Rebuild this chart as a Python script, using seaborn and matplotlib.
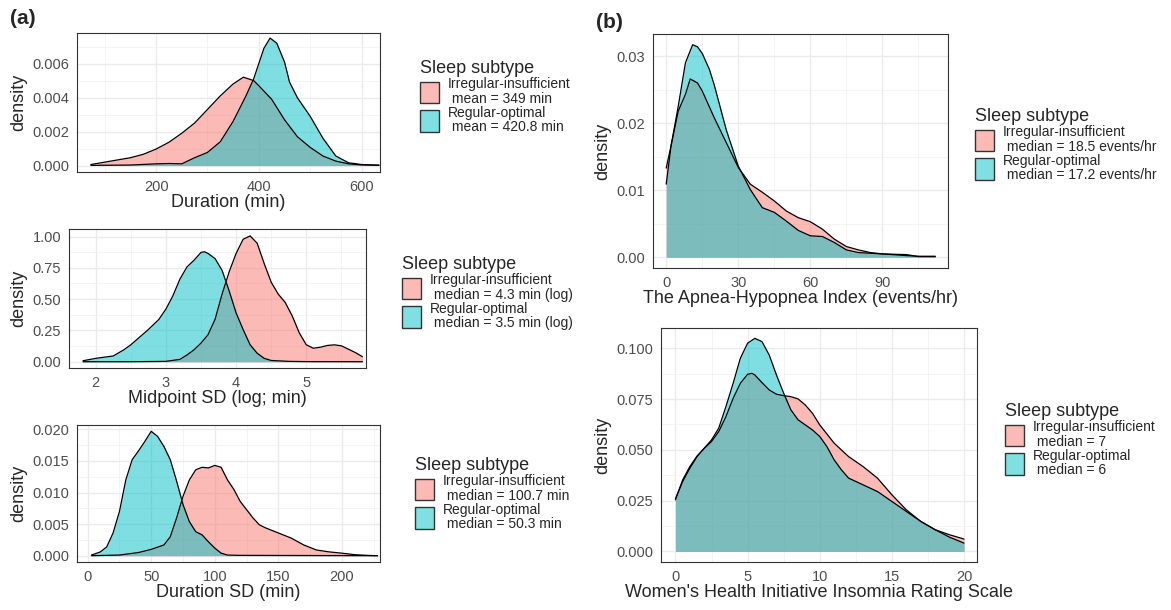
import numpy as np
import pandas as pd
import matplotlib
matplotlib.use('Agg')
import matplotlib.pyplot as plt
from matplotlib.patches import Patch
from matplotlib.ticker import MultipleLocator
import seaborn as sns

# densidades (grade x, valores y) para cada subtipo de sono

# (a) Duração
dur_x_irr = [73, 100, 150, 175, 200, 225, 250, 275, 300, 325, 350, 370, 390, 400,
             425, 450, 475, 500, 525, 550, 575, 600, 634]
dur_y_irr = [0.00006, 0.0002, 0.00046, 0.00066, 0.00097, 0.00137, 0.0019, 0.0025, 0.0033,
             0.0041, 0.0048, 0.0052, 0.0050, 0.0047, 0.0039, 0.0027, 0.0017, 0.00107,
             0.00056, 0.00026, 0.0001, 0.00004, 0.00002]
dur_x_reg = [73, 150, 200, 225, 250, 275, 300, 325, 350, 375, 390, 400, 410, 422, 435,
             450, 460, 475, 500, 525, 550, 575, 600, 634]
dur_y_reg = [0.00001, 0.00003, 0.0001, 0.00012, 0.0001, 0.00046, 0.00077, 0.0014, 0.0026,
             0.0041, 0.0051, 0.0060, 0.0069, 0.0075, 0.0072, 0.0061, 0.0049, 0.0040,
             0.0029, 0.0016, 0.00056, 0.00016, 0.00006, 0.00002]

# (a) Midpoint SD (log)
mid_x_irr = [1.82, 2.5, 3.0, 3.2, 3.3, 3.4, 3.5, 3.6, 3.7, 3.8, 3.9, 4.0, 4.1, 4.2, 4.3,
             4.4, 4.5, 4.6, 4.7, 4.8, 4.9, 5.0, 5.1, 5.2, 5.3, 5.4, 5.5, 5.6, 5.7, 5.8]
mid_y_irr = [0.0, 0.0, 0.003, 0.019, 0.054, 0.095, 0.149, 0.216, 0.338, 0.54, 0.716, 0.865,
             0.978, 1.005, 0.946, 0.784, 0.635, 0.54, 0.473, 0.365, 0.23, 0.135, 0.108,
             0.116, 0.13, 0.135, 0.127, 0.10, 0.073, 0.04]
mid_x_reg = [1.82, 2.0, 2.25, 2.4, 2.5, 2.75, 2.9, 3.0, 3.1, 3.2, 3.3, 3.4, 3.5, 3.55, 3.6,
             3.7, 3.8, 3.9, 4.0, 4.1, 4.2, 4.3, 4.4, 4.5, 4.75, 5.0, 5.8]
mid_y_reg = [0.008, 0.027, 0.046, 0.095, 0.135, 0.257, 0.338, 0.42, 0.527, 0.66, 0.757,
             0.81, 0.873, 0.878, 0.865, 0.824, 0.73, 0.567, 0.39, 0.257, 0.135, 0.068,
             0.027, 0.01, 0.003, 0.001, 0.0]

# (a) Duration SD
dsd_x_irr = [3, 25, 40, 50, 60, 65, 70, 75, 80, 85, 90, 95, 100, 105, 110, 115, 120, 125,
             130, 135, 140, 150, 160, 170, 180, 190, 200, 210, 220, 228]
dsd_y_irr = [0.0, 0.0001, 0.0005, 0.001, 0.0017, 0.003, 0.006, 0.0094, 0.012, 0.0136,
             0.014, 0.0139, 0.0143, 0.014, 0.012, 0.0105, 0.0086, 0.0073, 0.006, 0.0049,
             0.0044, 0.0036, 0.0028, 0.0017, 0.0009, 0.0006, 0.0004, 0.00016, 0.00005, 0.0]
dsd_x_reg = [3, 10, 15, 20, 25, 30, 35, 40, 45, 50, 55, 60, 65, 70, 75, 80, 85, 90, 95,
             100, 105, 110, 120, 228]
dsd_y_reg = [0.0001, 0.0006, 0.0014, 0.0036, 0.007, 0.012, 0.0152, 0.0166, 0.0181, 0.0197,
             0.0189, 0.0173, 0.0152, 0.0118, 0.0081, 0.0054, 0.0038, 0.0033, 0.0022,
             0.0012, 0.0004, 0.0001, 0.00005, 0.0]

# (b) Apnea-Hypopnea Index
ahi_x_irr = [0, 2, 5, 8, 10, 13, 15, 20, 25, 30, 35, 40, 45, 50, 55, 60, 65, 70, 75, 80,
             85, 90, 100, 105, 112]
ahi_y_irr = [0.0133, 0.0166, 0.0218, 0.0243, 0.0266, 0.026, 0.0248, 0.0208, 0.0171,
             0.0134, 0.0109, 0.0097, 0.0084, 0.0069, 0.0059, 0.0053, 0.0042, 0.0027,
             0.0016, 0.0011, 0.0007, 0.0005, 0.00025, 0.00015, 0.00015]
ahi_x_reg = [0, 2, 5, 8, 11, 13, 15, 18, 20, 25, 30, 35, 40, 45, 50, 55, 60, 65, 70, 75,
             80, 85, 90, 100, 105, 112]
ahi_y_reg = [0.0109, 0.0166, 0.0225, 0.029, 0.0317, 0.0314, 0.0304, 0.028, 0.0257, 0.019,
             0.0136, 0.0101, 0.0074, 0.0067, 0.0054, 0.004, 0.0032, 0.0031, 0.0022,
             0.0011, 0.0007, 0.0006, 0.0005, 0.0004, 0.0001, 0.0001]

# (b) WHIIRS
whi_x_irr = [0, 0.5, 1, 1.5, 2, 2.5, 3, 3.5, 4, 4.5, 5, 5.3, 5.5, 6, 6.5, 7, 7.5, 8, 8.5,
             9, 9.5, 10, 11, 12, 13, 14, 15, 16, 17, 18, 19, 20]
whi_y_irr = [0.0259, 0.0344, 0.041, 0.0467, 0.0508, 0.0541, 0.059, 0.0664, 0.0754, 0.0828,
             0.0872, 0.0877, 0.0869, 0.0831, 0.0795, 0.0774, 0.0767, 0.0762, 0.0751,
             0.0721, 0.068, 0.0623, 0.0533, 0.0467, 0.0418, 0.0361, 0.0279, 0.0205,
             0.0148, 0.0107, 0.0082, 0.0061]
whi_x_reg = [0, 0.5, 1, 1.5, 2, 2.5, 3, 3.5, 4, 4.5, 5, 5.5, 6, 6.5, 7, 7.5, 8, 8.5, 9,
             9.5, 10, 10.5, 11, 11.5, 12, 13, 14, 15, 16, 17, 18, 19, 20]
whi_y_reg = [0.0254, 0.0352, 0.0418, 0.047, 0.0508, 0.0549, 0.0607, 0.0713, 0.0828,
             0.0951, 0.1025, 0.1049, 0.1033, 0.0967, 0.0869, 0.0779, 0.0697, 0.0648,
             0.0623, 0.0598, 0.0566, 0.0516, 0.0451, 0.0402, 0.0361, 0.0328, 0.0295,
             0.0246, 0.0197, 0.0148, 0.0107, 0.007, 0.0041]

GRUPOS = ['Irregular-insufficient', 'Regular-optimal']
CORES = ['#F8766D', '#00BFC4']
CORES_LEGENDA = ['#FBBAB6', '#7FDFE1']

sns.set_style('white')
plt.rcParams['font.family'] = ['Liberation Sans', 'DejaVu Sans']

fig = plt.figure(figsize=(11.71, 6.10), dpi=100)
W, H = 1171, 610


def eixo(l, r, t, b):
    return fig.add_axes([l / W, 1 - b / H, (r - l) / W, (b - t) / H])


def painel(ax, xs, ys, xlabel, xlim, ylim, xmaj, ymaj, yfmt, legenda, leg_pos):
    ax.set_axisbelow(True)
    for x, y, cor in zip(xs, ys, CORES):
        df = pd.DataFrame({'x': x, 'y': y})
        ax.fill_between(df['x'], 0, df['y'], color=cor, alpha=0.5, lw=0)
        sns.lineplot(data=df, x='x', y='y', color='black', lw=0.9, ax=ax,
                     solid_joinstyle='round')
    ax.set_xlim(xlim)
    ax.set_ylim(ylim)
    ax.xaxis.set_major_locator(MultipleLocator(xmaj))
    ax.xaxis.set_minor_locator(MultipleLocator(xmaj / 2))
    ax.yaxis.set_major_locator(MultipleLocator(ymaj))
    ax.yaxis.set_minor_locator(MultipleLocator(ymaj / 2))
    ax.yaxis.set_major_formatter(plt.FormatStrFormatter(yfmt))
    ax.grid(True, which='major', color='#EBEBEB', lw=1.0)
    ax.grid(True, which='minor', color='#F2F2F2', lw=0.6)
    ax.tick_params(which='major', length=3, color='#333333', labelsize=10.5,
                   labelcolor='#4D4D4D', pad=2.5)
    ax.tick_params(which='minor', length=0)
    for s in ax.spines.values():
        s.set_color('#333333')
        s.set_linewidth(0.8)
    ax.set_xlabel(xlabel, fontsize=13, labelpad=0)
    ax.set_ylabel('density', fontsize=13, labelpad=4)

    handles = [Patch(facecolor=c, edgecolor='#333333', lw=1.0) for c in CORES_LEGENDA]
    leg = ax.legend(handles, legenda, title='Sleep subtype', loc='upper left',
                    bbox_to_anchor=(leg_pos[0] / W, 1 - leg_pos[1] / H),
                    bbox_transform=fig.transFigure, frameon=False, fontsize=10,
                    title_fontsize=13, handlelength=1.4, handleheight=2.0,
                    labelspacing=0.0, handletextpad=0.6, borderpad=0,
                    borderaxespad=0, alignment='left')
    for t in leg.get_texts():
        t.set_linespacing(1.05)


ax1 = eixo(77, 380, 33, 172)
painel(ax1, [dur_x_irr, dur_x_reg], [dur_y_irr, dur_y_reg], 'Duration (min)',
       (46, 636), (-0.00038, 0.0078), 200, 0.002, '%.3f',
       ['Irregular-insufficient\n mean = 349 min', 'Regular-optimal\n mean = 420.8 min'],
       (420, 60))

ax2 = eixo(69, 366, 229, 368)
painel(ax2, [mid_x_irr, mid_x_reg], [mid_y_irr, mid_y_reg], 'Midpoint SD (log; min)',
       (1.62, 5.85), (-0.05, 1.06), 1, 0.25, '%.2f',
       ['Irregular-insufficient\n median = 4.3 min (log)',
        'Regular-optimal\n median = 3.5 min (log)'],
       (402, 256))

ax3 = eixo(77, 380, 425, 562)
painel(ax3, [dsd_x_irr, dsd_x_reg], [dsd_y_irr, dsd_y_reg], 'Duration SD (min)',
       (-8.4, 230), (-0.001, 0.0207), 50, 0.005, '%.3f',
       ['Irregular-insufficient\n median = 100.7 min',
        'Regular-optimal\n median = 50.3 min'],
       (415, 457))

ax4 = eixo(653, 948, 34, 268)
painel(ax4, [ahi_x_irr, ahi_x_reg], [ahi_y_irr, ahi_y_reg],
       'The Apnea-Hypopnea Index (events/hr)',
       (-5.5, 117.3), (-0.0016, 0.0333), 30, 0.01, '%.2f',
       ['Irregular-insufficient\n median = 18.5 events/hr',
        'Regular-optimal\n median = 17.2 events/hr'],
       (975, 108))

ax5 = eixo(661, 977, 328, 562)
painel(ax5, [whi_x_irr, whi_x_reg], [whi_y_irr, whi_y_reg],
       "Women's Health Initiative Insomnia Rating Scale",
       (-1.0, 20.9), (-0.0052, 0.11), 5, 0.025, '%.3f',
       ['Irregular-insufficient\n median = 7', 'Regular-optimal\n median = 6'],
       (1005, 403))

fig.text(10 / W, 1 - 19 / H, '(a)', fontsize=15, fontweight='bold', va='center')
fig.text(596 / W, 1 - 22 / H, '(b)', fontsize=15, fontweight='bold', va='center')

plt.savefig('out.png', dpi=100)
plt.close()
